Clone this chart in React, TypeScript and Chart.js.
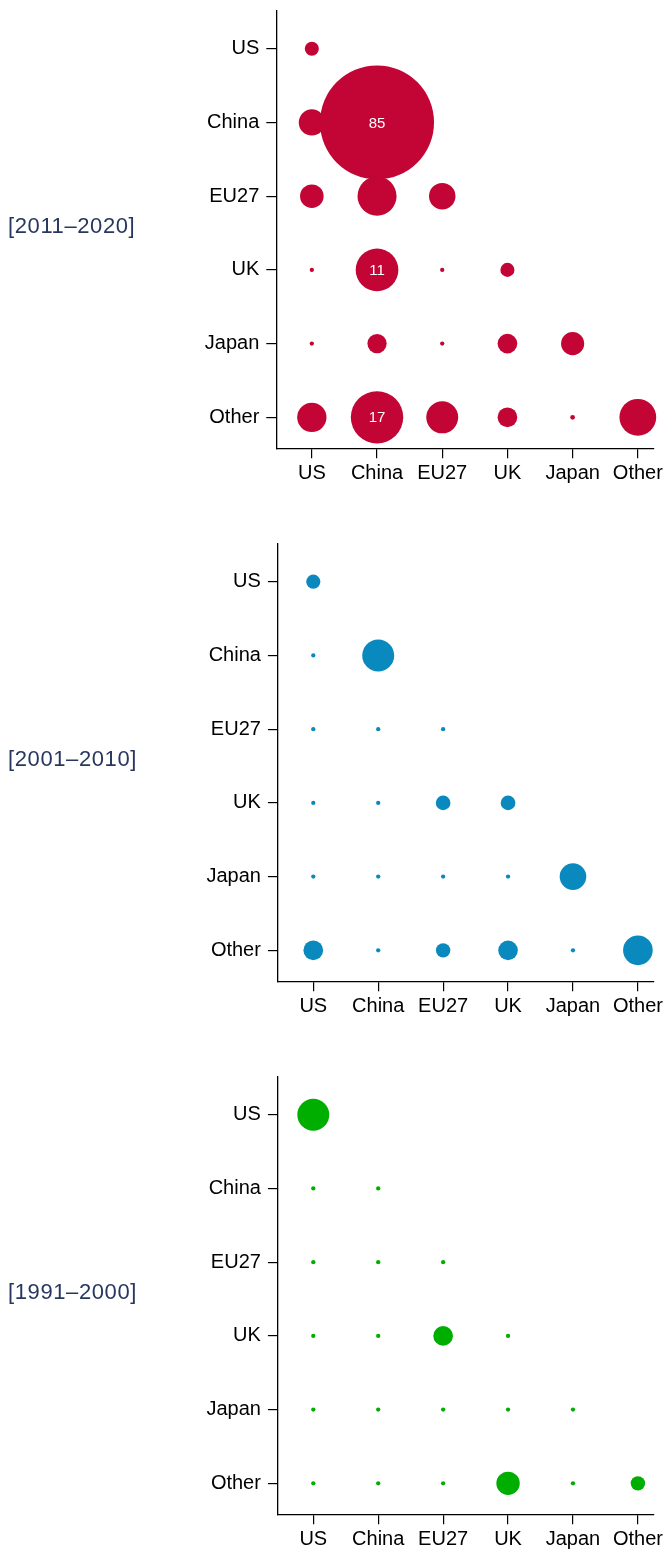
import React, { useEffect, useRef } from 'react';
import { Chart, registerables } from 'chart.js';

Chart.register(...registerables);

// Category labels (same on both axes)
const countries = ['US', 'China', 'EU27', 'UK', 'Japan', 'Other'];

// Period labels shown to the left of each panel
const periods = ['[2011–2020]', '[2001–2010]', '[1991–2000]'];

// Lower-triangular share matrices (row = y-axis country, column = x-axis country), in %
const shares2011 = [
  [0.9],
  [3.8, 85],
  [3.0, 9.1, 3.9],
  [0.02, 11, 0.02, 0.9],
  [0.02, 1.9, 0.02, 2.0, 2.9],
  [4.9, 17, 5.9, 2.0, 0.03, 8.0],
];

const shares2001 = [
  [0.92],
  [0.02, 5.9],
  [0.02, 0.02, 0.02],
  [0.02, 0.02, 0.99, 1.0],
  [0.02, 0.02, 0.02, 0.02, 3.95],
  [2.0, 0.02, 0.95, 1.98, 0.02, 5.0],
];

const shares1991 = [
  [5.9],
  [0.02, 0.02],
  [0.02, 0.02, 0.02],
  [0.02, 0.02, 2.0, 0.02],
  [0.02, 0.02, 0.02, 0.02, 0.02],
  [0.02, 0.02, 0.02, 2.96, 0.02, 0.95],
];

const panelColors = ['#C20535', '#0A89BE', '#00AE00'];
const labelColor = '#27375F';
const FONT = '"Liberation Sans", Arial, Helvetica, sans-serif';

const PANEL_STEP = 533;
const CANVAS_W = 665;
const CANVAS_H = 483;

// marker area ~ value
const radiusOf = (v: number) => 1.3 + 6.04 * Math.sqrt(v);

const valueLabels = {
  id: 'valueLabels',
  afterDatasetsDraw(chart: any) {
    const ctx = chart.ctx;
    const meta = chart.getDatasetMeta(0);
    const pts = chart.data.datasets[0].data as any[];
    meta.data.forEach((el: any, i: number) => {
      const p = pts[i];
      if (p.v >= 10) {
        ctx.save();
        ctx.fillStyle = '#ffffff';
        ctx.font = `15px ${FONT}`;
        ctx.textAlign = 'center';
        ctx.textBaseline = 'middle';
        ctx.fillText(String(Math.round(p.v)), el.x, el.y + 1);
        ctx.restore();
      }
    });
  },
};

function Panel({ matrix, color, axisLeft }: { matrix: number[][]; color: string; axisLeft: number }) {
  const ref = useRef<HTMLCanvasElement | null>(null);
  useEffect(() => {
    if (!ref.current) return;
    const data: any[] = [];
    matrix.forEach((row, i) =>
      row.forEach((v, j) => data.push({ x: j, y: i, r: radiusOf(v), v }))
    );
    const tickSet = (s: any) => {
      s.ticks = countries.map((_, i) => ({ value: i }));
    };
    const chart = new Chart(ref.current, {
      type: 'bubble',
      data: {
        datasets: [
          {
            data,
            backgroundColor: color,
            borderWidth: 0,
            hoverBorderWidth: 0,
            hoverRadius: 0,
            clip: false,
          } as any,
        ],
      },
      options: {
        animation: false,
        responsive: false,
        maintainAspectRatio: false,
        events: [],
        layout: { autoPadding: false, padding: { top: 10.5, right: 11, bottom: 0, left: 0 } },
        plugins: { legend: { display: false }, tooltip: { enabled: false } },
        scales: {
          x: {
            type: 'linear',
            min: -0.545,
            max: 5.248,
            afterBuildTicks: tickSet,
            afterFit: (s: any) => {
              s.height = CANVAS_H - 448.3;
              s.paddingLeft = 0;
              s.paddingRight = 0;
            },
            grid: { drawOnChartArea: false, drawTicks: true, tickLength: 10, color: '#000', lineWidth: 1.2 },
            border: { display: true, color: '#000', width: 1.3 },
            ticks: {
              callback: (v: any) => countries[v as number],
              font: { family: FONT, size: 20 },
              color: '#000',
              padding: 3,
              maxRotation: 0,
              minRotation: 0,
              autoSkip: false,
            },
          },
          y: {
            type: 'linear',
            reverse: true,
            min: -0.518,
            max: 5.42,
            afterBuildTicks: tickSet,
            afterFit: (s: any) => {
              s.width = axisLeft;
              s.paddingTop = 0;
              s.paddingBottom = 0;
            },
            grid: { drawOnChartArea: false, drawTicks: true, tickLength: 10, color: '#000', lineWidth: 1.2 },
            border: { display: true, color: '#000', width: 1.3 },
            ticks: {
              callback: (v: any) => countries[v as number],
              font: { family: FONT, size: 20 },
              color: '#000',
              padding: 7,
              autoSkip: false,
            },
          },
        },
      } as any,
      plugins: [valueLabels],
    });
    return () => chart.destroy();
  }, [matrix, color, axisLeft]);
  return <canvas ref={ref} width={CANVAS_W} height={CANVAS_H} style={{ display: 'block' }} />;
}

const matrices = [shares2011, shares2001, shares1991];
const axisLefts = [276.3, 277.9, 277.9];

export default function App() {
  return (
    <div style={{ position: 'absolute', left: 0, top: 0, width: CANVAS_W, height: 1549, overflow: 'hidden', background: '#fff' }}>
      {matrices.map((m, k) => (
        <div key={k} style={{ position: 'absolute', left: 0, top: k * PANEL_STEP, width: CANVAS_W, height: CANVAS_H }}>
          <Panel matrix={m} color={panelColors[k]} axisLeft={axisLefts[k]} />
          <div
            style={{
              position: 'absolute',
              left: 8,
              top: 215.3,
              fontFamily: FONT,
              fontSize: 22,
              lineHeight: '22px',
              letterSpacing: '0.6px',
              color: labelColor,
              whiteSpace: 'nowrap',
            }}
          >
            {periods[k]}
          </div>
        </div>
      ))}
    </div>
  );
}
